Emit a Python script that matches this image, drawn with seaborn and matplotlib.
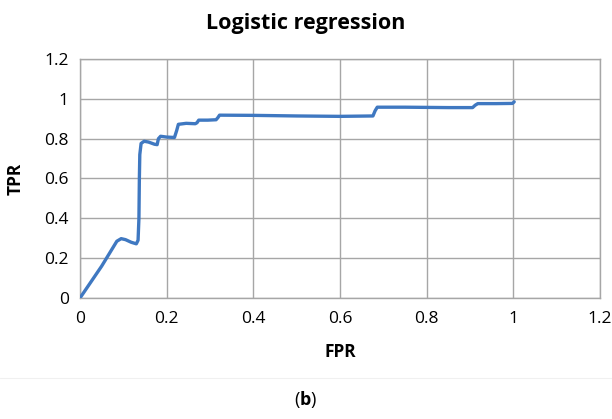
import matplotlib
matplotlib.use("Agg")
import matplotlib.pyplot as plt
import seaborn as sns
import pandas as pd

# ROC curve of the logistic regression model
fpr = [0.0, 0.05, 0.085, 0.095, 0.105, 0.118, 0.13, 0.134, 0.136, 0.137, 0.138,
       0.141, 0.148, 0.158, 0.172, 0.178, 0.181, 0.186, 0.2, 0.218, 0.223,
       0.227, 0.245, 0.266, 0.27, 0.274, 0.295, 0.314, 0.318, 0.322, 0.4, 0.5,
       0.6, 0.676, 0.681, 0.686, 0.75, 0.85, 0.906, 0.912, 0.918, 0.96, 0.998,
       1.002]
tpr = [0.0, 0.16, 0.285, 0.298, 0.293, 0.28, 0.272, 0.29, 0.4, 0.6, 0.72,
       0.776, 0.787, 0.783, 0.772, 0.77, 0.8, 0.812, 0.808, 0.806, 0.84,
       0.872, 0.877, 0.875, 0.88, 0.893, 0.893, 0.895, 0.905, 0.918, 0.917,
       0.914, 0.912, 0.914, 0.94, 0.958, 0.958, 0.956, 0.956, 0.968, 0.976,
       0.976, 0.977, 0.985]

x_ticks = [0, 0.2, 0.4, 0.6, 0.8, 1, 1.2]
y_ticks = [0, 0.2, 0.4, 0.6, 0.8, 1, 1.2]
x_tick_labels = ["0", "0.2", "0.4", "0.6", "0.8", "1", "1.2"]
y_tick_labels = ["0", "0.2", "0.4", "0.6", "0.8", "1", "1.2"]

sns.set_theme(style="white")
plt.rcParams["font.family"] = ["Open Sans", "DejaVu Sans"]
plt.rcParams["text.color"] = "#000000"
plt.rcParams["axes.labelcolor"] = "#000000"
plt.rcParams["mathtext.fontset"] = "custom"
plt.rcParams["mathtext.bf"] = "Open Sans:bold"
plt.rcParams["mathtext.rm"] = "Open Sans"

df = pd.DataFrame({"FPR": fpr, "TPR": tpr})

fig = plt.figure(figsize=(6.12, 4.19), dpi=100)
ax = fig.add_axes([80 / 612, 1 - 298 / 419, 520 / 612, 239 / 419])

sns.lineplot(data=df, x="FPR", y="TPR", sort=False, ax=ax, color="#3F78C1",
             linewidth=2.4, solid_capstyle="round", solid_joinstyle="round",
             zorder=3)

ax.set_xlim(0, 1.2)
ax.set_ylim(0, 1.2)
ax.set_xticks(x_ticks)
ax.set_xticklabels(x_tick_labels)
ax.set_yticks(y_ticks)
ax.set_yticklabels(y_tick_labels)
ax.tick_params(axis="both", labelsize=12.5, length=0, colors="#000000")
ax.tick_params(axis="x", pad=9)
ax.tick_params(axis="y", pad=8)
ax.grid(True, color="#A6A6A6", linewidth=1.0)
for s in ax.spines.values():
    s.set_color("#A6A6A6")
    s.set_linewidth(1.0)

ax.set_xlabel("FPR", fontsize=12.5, fontweight="bold", labelpad=12)
ax.set_ylabel("TPR", fontsize=12.5, fontweight="bold", labelpad=14)

fig.text(0.5, 1 - 23 / 419, "Logistic regression", ha="center", va="center",
         fontsize=15.5, fontweight="bold")

fig.add_artist(plt.Line2D([0, 1], [1 - 378 / 419, 1 - 378 / 419],
                          color="#F0F0F0", linewidth=0.8))

fig.text(0.5, 1 - 399 / 419, r"($\mathbf{b}$)", ha="center", va="center",
         fontsize=13)

fig.savefig("out.png", dpi=100)
